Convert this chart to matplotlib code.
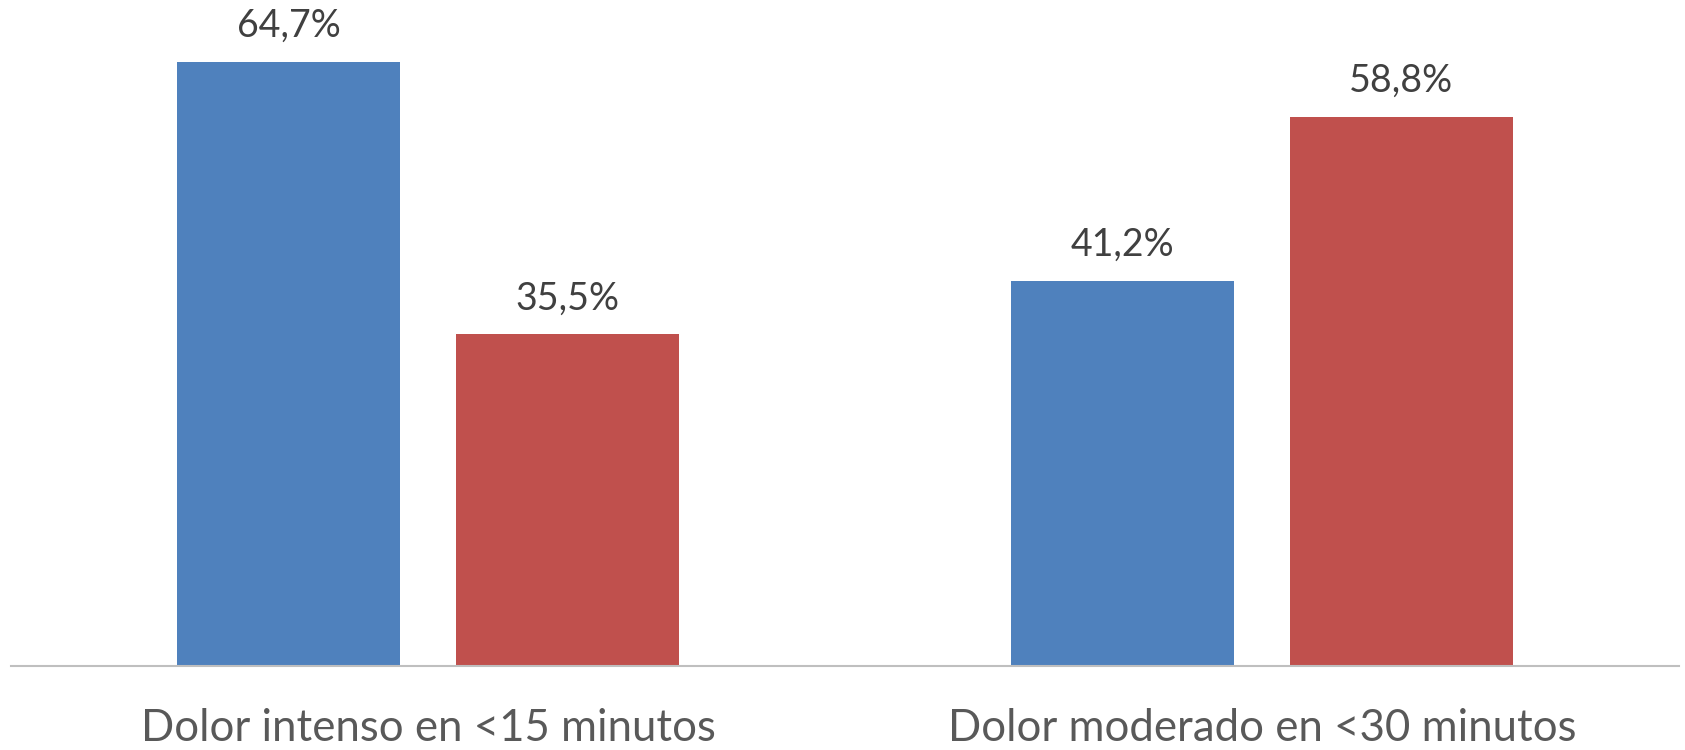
import numpy as np
import matplotlib
matplotlib.use("Agg")
from matplotlib import pyplot

# Data
categories = ["Dolor intenso en <15 minutos", "Dolor moderado en <30 minutos"]
serie_a = [64.7, 41.2]
serie_b = [35.5, 58.8]
etiquetas_a = ["64,7%", "41,2%"]
etiquetas_b = ["35,5%", "58,8%"]

azul = "#4F81BD"
rojo = "#C0504D"

pyplot.rcParams["font.family"] = ["Lato", "DejaVu Sans"]

fig = pyplot.figure(figsize=(16.85, 7.5), dpi=100)
ax = fig.add_axes([11 / 1685, 84 / 750, 1668 / 1685, 666 / 750])

x = np.arange(len(categories))
ancho = 0.267
desp = 0.167

barras_a = ax.bar(x - desp, serie_a, ancho, color=azul)
barras_b = ax.bar(x + desp, serie_b, ancho, color=rojo)

for barras, etiquetas in ((barras_a, etiquetas_a), (barras_b, etiquetas_b)):
    for b, txt in zip(barras, etiquetas):
        ax.annotate(txt, (b.get_x() + b.get_width() / 2, b.get_height()),
                    xytext=(0, 13), textcoords="offset points",
                    ha="center", va="bottom", fontsize=27, color="#404040")

ax.set_xlim(-0.5, 1.5)
ax.set_ylim(0, 71.3)

ax.set_xticks(x)
ax.set_xticklabels(categories, fontsize=31.5, color="#595959")
ax.tick_params(axis="x", length=0, pad=30)
ax.set_yticks([])

for lado in ("top", "right", "left"):
    ax.spines[lado].set_visible(False)
ax.spines["bottom"].set_color("#BFBFBF")
ax.spines["bottom"].set_linewidth(1.5)
ax.patch.set_alpha(0)

pyplot.savefig("out.png", dpi=100)
